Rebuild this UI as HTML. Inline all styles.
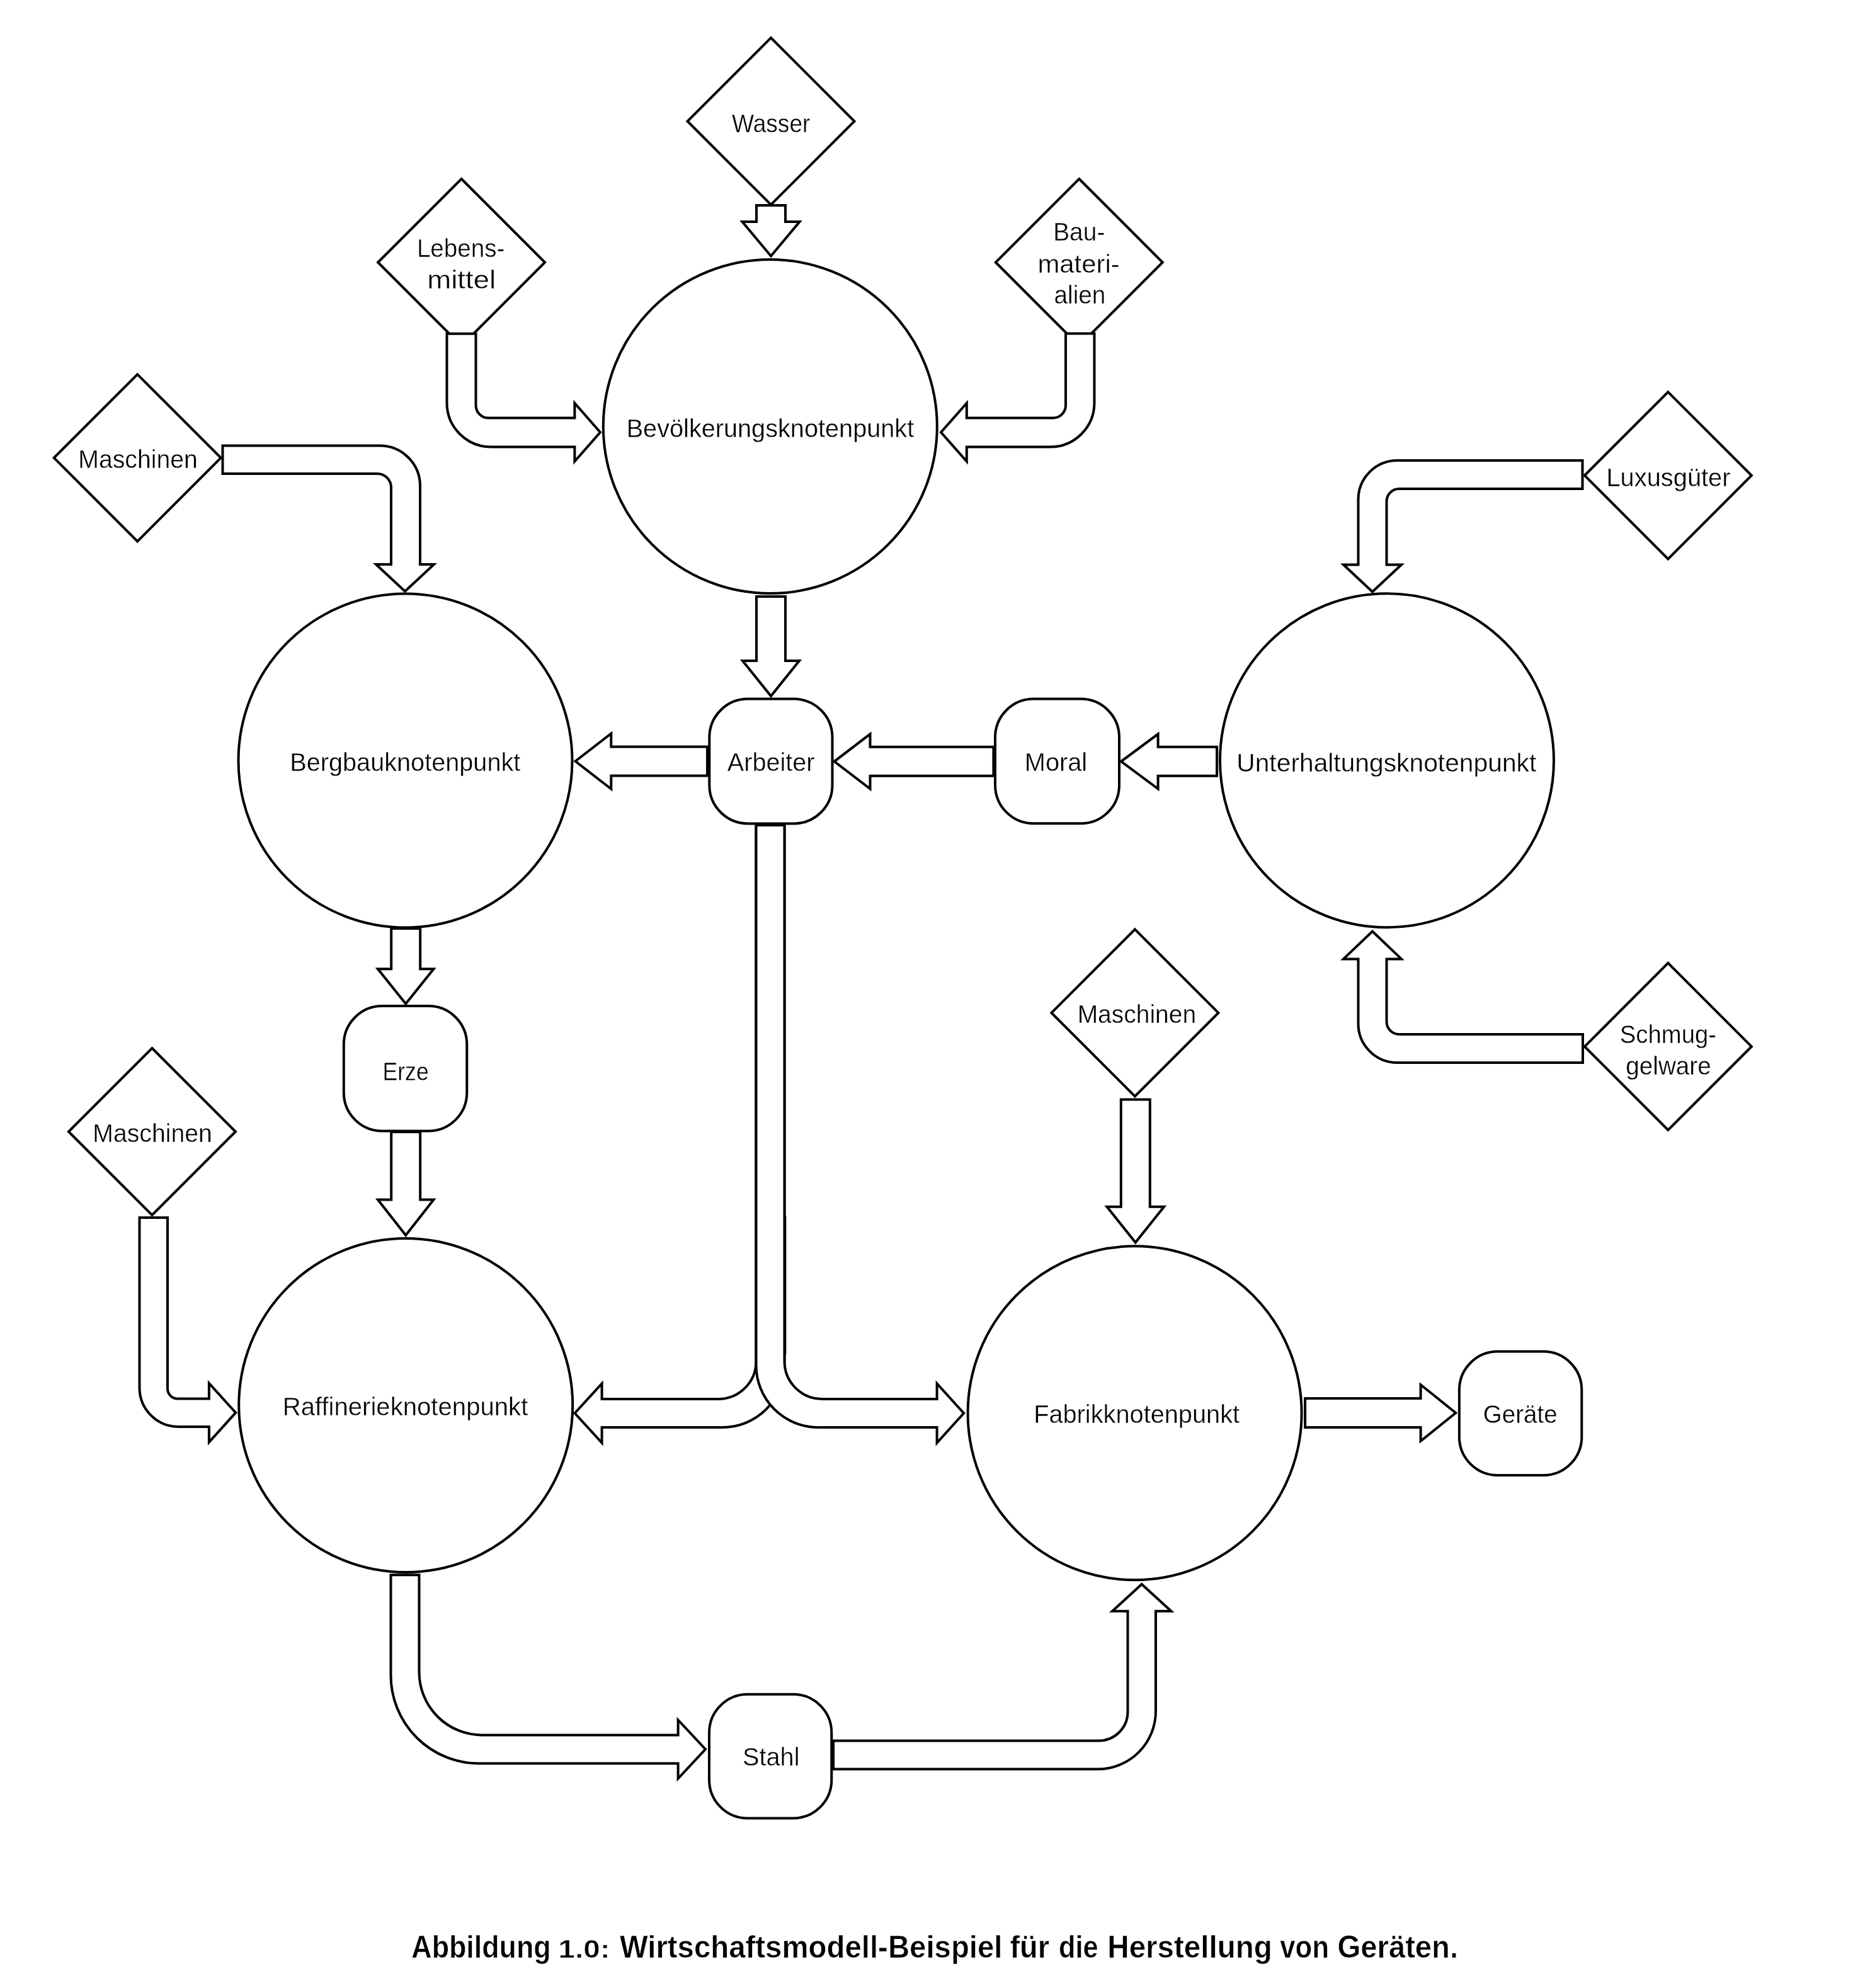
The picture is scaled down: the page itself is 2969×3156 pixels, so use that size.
<!DOCTYPE html>
<html><head><meta charset="utf-8"><style>html,body{margin:0;padding:0;background:#fff;}body{width:2969px;height:3156px;overflow:hidden;}svg{display:block;filter:grayscale(1);}text{font-family:"Liberation Sans",sans-serif;fill:#000;}</style></head><body>
<svg width="2969" height="3156" viewBox="0 0 2969 3156">
<rect x="0" y="0" width="2969" height="3156" fill="#fff"/>
<g fill="#fff" stroke="#000" stroke-width="4" stroke-linejoin="miter" stroke-miterlimit="10">
<polygon points="1224,60.0 1356.5,192.5 1224,325.0 1091.5,192.5"/>
<polygon points="732.6,284.0 865.1,416.5 732.6,549.0 600.1,416.5"/>
<polygon points="1713.3,284.0 1845.8,416.5 1713.3,549.0 1580.8,416.5"/>
<polygon points="218.2,594.3 350.7,726.8 218.2,859.3 85.69999999999999,726.8"/>
<polygon points="2648.4,622.3 2780.9,754.8 2648.4,887.3 2515.9,754.8"/>
<polygon points="1801.9,1475.4 1934.4,1607.9 1801.9,1740.4 1669.4,1607.9"/>
<polygon points="2648.4,1528.9 2780.9,1661.4 2648.4,1793.9 2515.9,1661.4"/>
<polygon points="241.4,1664.0 373.9,1796.5 241.4,1929.0 108.9,1796.5"/>
<circle cx="1222.8" cy="677" r="265"/>
<circle cx="643.5" cy="1207.5" r="265"/>
<circle cx="2202" cy="1207.3" r="265"/>
<circle cx="644.2" cy="2231" r="265"/>
<circle cx="1801.6" cy="2243.3" r="265"/>
<rect x="1126.3" y="1109.6" width="195.2" height="197.8" rx="61" ry="61"/>
<rect x="1580" y="1109.6" width="197.0" height="197.7" rx="61" ry="61"/>
<rect x="545.8" y="1597.1" width="195.5" height="198.4" rx="61" ry="61"/>
<rect x="1126" y="2689.7" width="194.3" height="196.8" rx="61" ry="61"/>
<rect x="2316.9" y="2145.6" width="194.4" height="196.4" rx="61" ry="61"/>
<polygon points="1201,326 1247,326 1247,352 1269.5,352 1224,406.5 1178.5,352 1201,352"/>
<path d="M709.5,529.7 L755.5,529.7 L755.5,643.5 A20,20 0 0 0 775.5,663.5 L912.4,663.5 L912.4,640 L953,686.2 L912.4,732.5 L912.4,709.5 L779.5,709.5 A70,70 0 0 1 709.5,639.5 Z"/>
<path d="M1737.5,529.6 L1692,529.6 L1692,643.5 A20,20 0 0 1 1672,663.5 L1534.8,663.5 L1534.8,640 L1494,686.2 L1534.8,732.5 L1534.8,709.5 L1667.5,709.5 A70,70 0 0 0 1737.5,639.5 Z"/>
<path d="M353.5,707.5 L603,707.5 A64,64 0 0 1 667,771.5 L667,896 L689,896 L643,938.7 L597,896 L621,896 L621,774 A22,22 0 0 0 599,752 L353.5,752 Z"/>
<polygon points="1201,947.1 1247,947.1 1247,1049 1269,1049 1224,1105 1179,1049 1201,1049"/>
<polygon points="1123,1185.5 970.3,1185.5 970.3,1164.5 913.5,1208.5 970.3,1252.5 970.3,1231.5 1123,1231.5"/>
<polygon points="1577.4,1185.8 1381.5,1185.8 1381.5,1165.3 1324.6,1208.8 1381.5,1252.3 1381.5,1231.8 1577.4,1231.8"/>
<polygon points="1932.1,1185.8 1838.6,1185.8 1838.6,1165.3 1780,1208.8 1838.6,1252.3 1838.6,1231.8 1932.1,1231.8"/>
<polygon points="621.2,1474 667.2,1474 667.2,1538.2 688.5,1538.2 644.2,1593.5 599.9000000000001,1538.2 621.2,1538.2"/>
<polygon points="621.2,1797 667.2,1797 667.2,1904.4 688.5,1904.4 644.2,1961 599.9000000000001,1904.4 621.2,1904.4"/>
<path d="M221.5,1933.1 L266,1933.1 L266,2204.5 A16,16 0 0 0 282,2220.5 L331.9,2220.5 L331.9,2196 L374.2,2242.7 L331.9,2289.5 L331.9,2265 L283.5,2265 A62,62 0 0 1 221.5,2203 Z"/>
<path d="M620.5,2500.3 L665.5,2500.3 L665.5,2654.5 A100,100 0 0 0 765.5,2754.5 L1076.6,2754.5 L1076.6,2730.5 L1120,2777 L1076.6,2823.5 L1076.6,2799.5 L760.5,2799.5 A140,140 0 0 1 620.5,2659.5 Z"/>
<path d="M1323.1,2763.5 L1744.5,2763.5 A46,46 0 0 0 1790.5,2717.5 L1790.5,2557.8 L1766,2557.8 L1812.7,2515 L1859.5,2557.8 L1835,2557.8 L1835,2716.5 A92,92 0 0 1 1743,2808.5 L1323.1,2808.5 Z"/>
<polygon points="1779.8,1745.4 1825.8,1745.4 1825.8,1915.7 1848.1,1915.7 1802.8,1972.6 1757.5,1915.7 1779.8,1915.7"/>
<path d="M1200.5,1310 L1245.5,1310 L1245.5,2167.5 A98.5,98.5 0 0 1 1147,2266 L955.6,2266 L955.6,2290.5 L912.6,2243.5 L955.6,2196.5 L955.6,2221 L1140.5,2221 A60,60 0 0 0 1200.5,2161 Z"/>
<path d="M1200.5,1310 L1245.5,1310 L1245.5,2161 A60,60 0 0 0 1305.5,2221 L1487.6,2221 L1487.6,2196.5 L1530.2,2243.5 L1487.6,2290.5 L1487.6,2266 L1299,2266 A98.5,98.5 0 0 1 1200.5,2167.5 Z"/>
<line x1="1246.3" y1="1931" x2="1246.3" y2="2150"/>
<polygon points="2072.1,2220 2255.6,2220 2255.6,2198.3 2311.3,2243 2255.6,2287.7 2255.6,2266 2072.1,2266"/>
<path d="M2512.5,731 L2218.5,731 A62,62 0 0 0 2156.5,793 L2156.5,896.5 L2133,896.5 L2179,939.5 L2225,896.5 L2201.5,896.5 L2201.5,796 A20,20 0 0 1 2221.5,776 L2512.5,776 Z"/>
<path d="M2513,1642 L2221.5,1642 A20,20 0 0 1 2201.5,1622 L2201.5,1522.4 L2225,1522.4 L2179,1478.5 L2133,1522.4 L2156.5,1522.4 L2156.5,1625 A62,62 0 0 0 2218.5,1687 L2513,1687 Z"/>
</g>
<g text-anchor="middle" stroke="#fff" stroke-width="0.4">
<text x="1224.22" y="209.5" font-size="41.0" textLength="124.37" lengthAdjust="spacingAndGlyphs">Wasser</text>
<text x="731.67" y="408.3" font-size="41.0" textLength="139.58" lengthAdjust="spacingAndGlyphs">Lebens-</text>
<text x="732.71" y="457.6" font-size="41.0" textLength="108.66" lengthAdjust="spacingAndGlyphs">mittel</text>
<text x="1713.27" y="382.3" font-size="41.0" textLength="82.22" lengthAdjust="spacingAndGlyphs">Bau-</text>
<text x="1712.54" y="433" font-size="41.0" textLength="130.14" lengthAdjust="spacingAndGlyphs">materi-</text>
<text x="1714.44" y="482.4" font-size="41.0" textLength="81.97" lengthAdjust="spacingAndGlyphs">alien</text>
<text x="219.07" y="743.2" font-size="41.0" textLength="189.56" lengthAdjust="spacingAndGlyphs">Maschinen</text>
<text x="1222.92" y="694.2" font-size="41.0" textLength="456.54" lengthAdjust="spacingAndGlyphs">Bevölkerungsknotenpunkt</text>
<text x="643.32" y="1223.7" font-size="41.0" textLength="366.04" lengthAdjust="spacingAndGlyphs">Bergbauknotenpunkt</text>
<text x="1224.19" y="1223.9" font-size="41.0" textLength="138.74" lengthAdjust="spacingAndGlyphs">Arbeiter</text>
<text x="1676.5" y="1224" font-size="41.0" textLength="99.42" lengthAdjust="spacingAndGlyphs">Moral</text>
<text x="2201.28" y="1224.7" font-size="41.0" textLength="476.04" lengthAdjust="spacingAndGlyphs">Unterhaltungsknotenpunkt</text>
<text x="2649.0" y="772.2" font-size="41.0" textLength="197.13" lengthAdjust="spacingAndGlyphs">Luxusgüter</text>
<text x="1804.87" y="1623.8" font-size="41.0" textLength="188.43" lengthAdjust="spacingAndGlyphs">Maschinen</text>
<text x="2648.38" y="1656.4" font-size="41.0" textLength="153.24" lengthAdjust="spacingAndGlyphs">Schmug-</text>
<text x="2649.05" y="1705.8" font-size="41.0" textLength="135.44" lengthAdjust="spacingAndGlyphs">gelware</text>
<text x="644.13" y="1715" font-size="41.0" textLength="73.31" lengthAdjust="spacingAndGlyphs">Erze</text>
<text x="242.07" y="1813" font-size="41.0" textLength="189.56" lengthAdjust="spacingAndGlyphs">Maschinen</text>
<text x="643.5" y="2247.2" font-size="41.0" textLength="389.58" lengthAdjust="spacingAndGlyphs">Raffinerieknotenpunkt</text>
<text x="1804.62" y="2259.2" font-size="41.0" textLength="326.95" lengthAdjust="spacingAndGlyphs">Fabrikknotenpunkt</text>
<text x="2413.79" y="2259.1" font-size="41.0" textLength="117.85" lengthAdjust="spacingAndGlyphs">Geräte</text>
<text x="1224.23" y="2803.1" font-size="41.0" textLength="90.56" lengthAdjust="spacingAndGlyphs">Stahl</text>
<text x="763.99" y="3108" font-size="50.5" font-weight="bold" stroke-width="0.6" textLength="221.41" lengthAdjust="spacingAndGlyphs">Abbildung</text>
<text x="927.64" y="3108" font-size="40" font-weight="bold" stroke-width="0.6" textLength="82.08" lengthAdjust="spacingAndGlyphs">1.0:</text>
<text x="1287.75" y="3108" font-size="50.5" font-weight="bold" stroke-width="0.6" textLength="607.6" lengthAdjust="spacingAndGlyphs">Wirtschaftsmodell-Beispiel</text>
<text x="1634.7" y="3108" font-size="50.5" font-weight="bold" stroke-width="0.6" textLength="62.41" lengthAdjust="spacingAndGlyphs">für</text>
<text x="1712.4" y="3108" font-size="50.5" font-weight="bold" stroke-width="0.6" textLength="62.56" lengthAdjust="spacingAndGlyphs">die</text>
<text x="1889.05" y="3108" font-size="50.5" font-weight="bold" stroke-width="0.6" textLength="261.46" lengthAdjust="spacingAndGlyphs">Herstellung</text>
<text x="2071.12" y="3108" font-size="50.5" font-weight="bold" stroke-width="0.6" textLength="77.78" lengthAdjust="spacingAndGlyphs">von</text>
<text x="2219.31" y="3108" font-size="50.5" font-weight="bold" stroke-width="0.6" textLength="191.49" lengthAdjust="spacingAndGlyphs">Geräten.</text>
</g>
</svg></body></html>
